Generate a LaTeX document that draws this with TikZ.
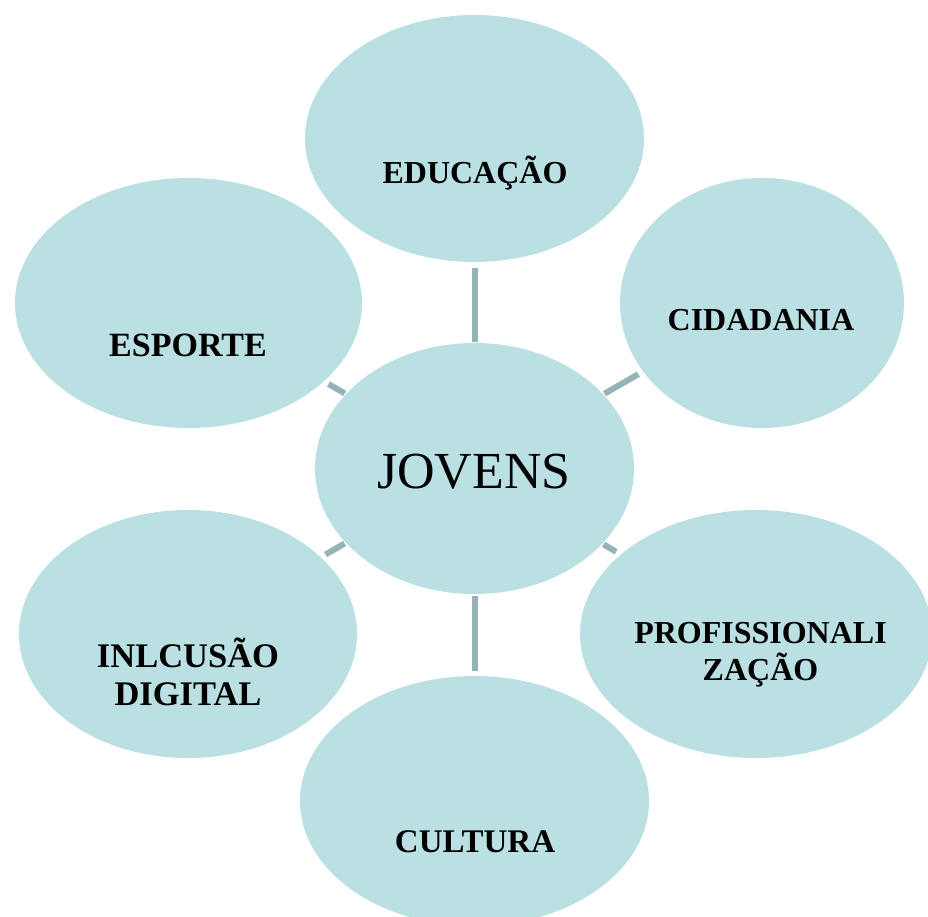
\documentclass[tikz,border=0pt]{standalone}
\usepackage{fontspec}
\setmainfont{Liberation Serif}
\usetikzlibrary{shapes.geometric}
\definecolor{bubble}{HTML}{BAE0E3}
\definecolor{linkc}{HTML}{96B4B8}
\tikzset{
  bub/.style={ellipse, fill=bubble, draw=none, inner sep=0pt, outer sep=0pt},
  lab/.style={anchor=base, inner sep=0pt, font=\fontsize{#1}{#1}\selectfont\bfseries},
  lab/.default=32,
  big/.style={anchor=base, inner sep=0pt, font=\fontsize{52}{60}\selectfont},
  conn/.style={draw=linkc, line width=6pt, line cap=butt, shorten <=5.5pt, shorten >=1.5pt}
}
\begin{document}
\begin{tikzpicture}[x=1pt,y=-1pt]
\useasboundingbox (0,0) rectangle (928,917);
\clip (0,0) rectangle (928,917);
% bubbles
\node[bub, minimum width=339pt, minimum height=247pt] (edu) at (474.5,138.5) {};
\node[bub, minimum width=284pt, minimum height=250pt] (cid) at (762,303) {};
\node[bub, minimum width=347pt, minimum height=250pt] (esp) at (188.5,303) {};
\node[bub, minimum width=319pt, minimum height=251pt] (jov) at (474.5,468.5) {};
\node[bub, minimum width=338pt, minimum height=248pt] (inc) at (188,634) {};
\node[bub, minimum width=352pt, minimum height=248pt] (pro) at (756,634) {};
\node[bub, minimum width=349pt, minimum height=250pt] (cul) at (474.5,801) {};
% connectors
\draw[conn] (edu) -- (jov);
\draw[conn] (cid) -- (jov);
\draw[conn] (esp) -- (jov);
\draw[conn] (inc) -- (jov);
\draw[conn] (pro) -- (jov);
\draw[conn] (cul) -- (jov);
% texts
\node[lab] (tedu) at (475,184) {EDUCAÇÃO};
\node[lab] (tcid) at (761,330) {CIDADANIA};
\node[lab=34] (tesp) at (188,356) {ESPORTE};
\node[big] (tjov) at (474,488) {JOVENS};
\node[lab] (tpro1) at (760.5,643) {PROFISSIONALI};
\node[lab] (tpro2) at (760.5,680) {ZAÇÃO};
\node[lab=34.5] (tinc1) at (188,667) {INLCUSÃO};
\node[lab=34.5] (tinc2) at (188,705) {DIGITAL};
\node[lab=33] (tcul) at (475,852) {CULTURA};
\end{tikzpicture}
\end{document}
